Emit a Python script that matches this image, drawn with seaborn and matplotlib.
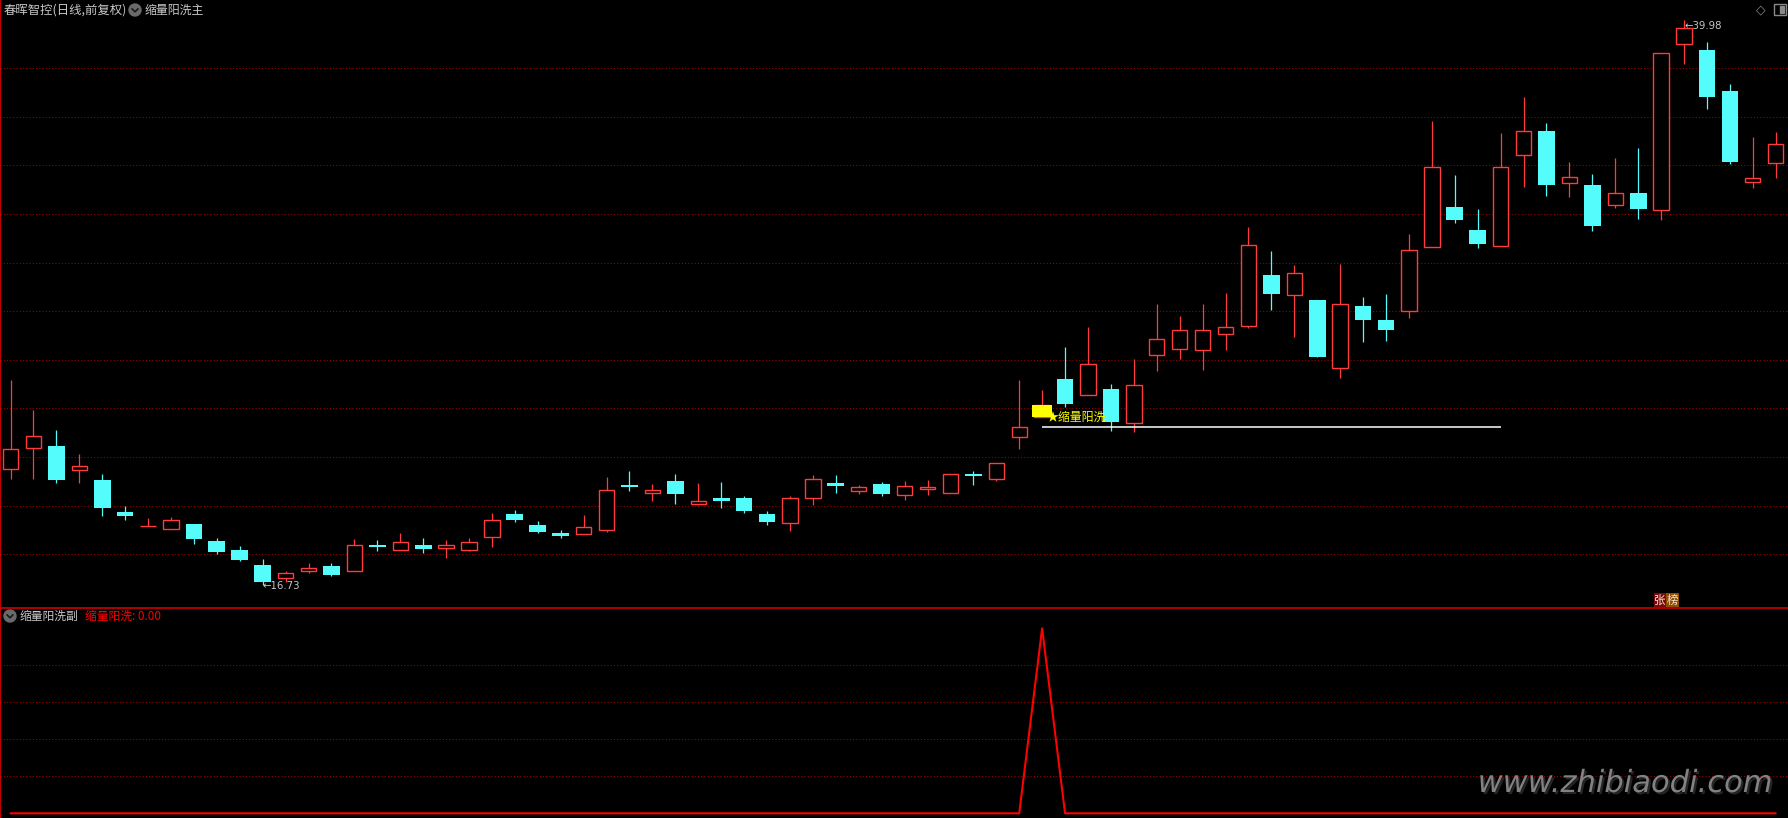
import numpy as np
import pandas as pd
import matplotlib
matplotlib.use("Agg")
import matplotlib.pyplot as plt
import matplotlib.patheffects as pe
import seaborn as sns
from matplotlib.patches import Circle, Rectangle


STOCK_TITLE = "春晖智控(日线,前复权)"
MAIN_NAME = "缩量阳洗主"
SUB_NAME = "缩量阳洗副"
SIGNAL_NAME = "缩量阳洗"
WATERMARK = "www.zhibiaodi.com"

opens = [21.50, 22.39, 22.46, 21.46, 21.06, 19.73, 19.15, 19.05, 19.25, 18.55,
         18.18, 17.56, 17.04, 17.33, 17.52, 17.33, 18.38, 18.19, 18.38, 18.27,
         18.19, 18.70, 19.66, 19.21, 18.88, 18.82, 18.99, 20.85, 20.51, 21.02,
         20.08, 20.32, 20.32, 19.66, 19.30, 20.30, 20.93, 20.59, 20.89, 20.45,
         20.67, 20.53, 21.30, 21.09, 22.84, 23.66, 25.21, 24.57, 24.80, 23.42,
         26.21, 26.46, 26.42, 27.08, 27.41, 29.49, 28.68, 28.46, 25.65, 28.22,
         27.64, 28.00, 30.66, 32.29, 31.35, 30.70, 34.44, 35.42, 33.29, 33.20,
         32.36, 32.87, 32.18, 38.99, 38.75, 37.07, 33.31, 34.09]
highs = [25.17, 23.94, 23.12, 22.13, 21.30, 19.99, 19.49, 19.53, 19.25, 18.67,
         18.34, 17.81, 17.33, 17.64, 17.64, 18.63, 18.59, 18.88, 18.67, 18.59,
         18.67, 19.70, 19.82, 19.36, 18.99, 19.62, 21.18, 21.43, 20.89, 21.30,
         20.93, 20.98, 20.40, 19.78, 20.40, 21.26, 21.26, 20.85, 20.98, 21.02,
         21.06, 21.30, 21.43, 21.74, 25.17, 24.76, 26.53, 27.35, 25.01, 26.04,
         28.30, 27.81, 28.30, 28.75, 31.47, 30.48, 29.91, 28.46, 29.95, 28.59,
         28.71, 31.18, 35.83, 33.61, 32.21, 35.34, 36.82, 35.75, 34.14, 33.65,
         34.31, 34.72, 38.62, 39.98, 39.08, 37.35, 35.17, 35.38]
lows = [21.11, 21.11, 20.95, 20.95, 19.59, 19.42, 19.15, 19.05, 18.44, 18.02,
        17.74, 16.73, 16.87, 17.24, 17.12, 17.33, 18.15, 18.19, 18.07, 17.86,
        18.15, 18.31, 19.34, 18.88, 18.68, 18.82, 18.91, 20.60, 20.21, 20.08,
        20.08, 19.92, 19.71, 19.22, 18.97, 20.04, 20.53, 20.49, 20.41, 20.25,
        20.45, 20.53, 20.86, 21.03, 22.35, 23.66, 24.05, 24.57, 23.09, 23.05,
        25.56, 26.05, 25.60, 26.42, 27.32, 28.07, 26.95, 26.13, 25.27, 26.75,
        26.79, 27.74, 30.66, 31.62, 30.60, 30.70, 33.13, 32.76, 32.72, 31.32,
        32.26, 31.81, 31.77, 38.19, 36.34, 34.05, 33.09, 33.50]
closes = [22.32, 22.86, 21.07, 21.62, 19.92, 19.59, 19.15, 19.40, 18.63, 18.11,
          17.78, 16.87, 17.22, 17.42, 17.16, 18.37, 18.31, 18.49, 18.23, 18.38,
          18.49, 19.40, 19.42, 18.93, 18.77, 19.11, 20.65, 20.78, 20.63, 20.49,
          20.18, 20.21, 19.79, 19.34, 20.32, 21.10, 20.82, 20.77, 20.49, 20.81,
          20.76, 21.30, 21.23, 21.74, 23.23, 24.14, 24.20, 25.82, 23.46, 24.95,
          26.85, 27.23, 27.22, 27.34, 30.73, 28.72, 29.58, 26.13, 28.29, 27.65,
          27.24, 30.51, 33.93, 31.76, 30.78, 33.93, 35.41, 33.21, 33.51, 31.52,
          32.86, 32.21, 38.62, 39.65, 36.83, 34.16, 33.47, 34.87]

# 副图信号: 1 = 出现缩量阳洗
signal = [0, 0, 0, 0, 0, 0, 0, 0, 0, 0, 0, 0, 0, 0, 0, 0, 0, 0, 0, 0,
          0, 0, 0, 0, 0, 0, 0, 0, 0, 0, 0, 0, 0, 0, 0, 0, 0, 0, 0, 0,
          0, 0, 0, 0, 0, 1, 0, 0, 0, 0, 0, 0, 0, 0, 0, 0, 0, 0, 0, 0,
          0, 0, 0, 0, 0, 0, 0, 0, 0, 0, 0, 0, 0, 0, 0, 0, 0, 0]

wash_line_price = 23.23
wash_line_end = 65
price_grid = [18, 20, 22, 24, 26, 28, 30, 32, 34, 36, 38]
signal_grid = [0.2, 0.4, 0.6, 0.8]

W, H = 1788, 818
SPLIT_PX = 608
STEP_PX = 22.925
FIRST_PX = 10.5

RED = "#ff3b3b"
CYAN = "#54fcfc"
GRID = "#a00000"
BORDER = "#c00000"
TEXT_GRAY = "#c8c8c8"
CJK = ["Noto Sans CJK SC", "DejaVu Sans"]


def px_xlim():
    return (-FIRST_PX / STEP_PX, (W - FIRST_PX) / STEP_PX)


def style_axes(ax):
    ax.set_facecolor("black")
    ax.set_xticks([])
    ax.set_yticks([])
    ax.set_xlabel("")
    ax.set_ylabel("")
    for s in ax.spines.values():
        s.set_visible(False)
    ax.spines["left"].set_visible(True)
    ax.spines["left"].set_color(BORDER)
    ax.spines["left"].set_linewidth(1.5)


def draw_candles(ax, df):
    up = df["close"] >= df["open"]
    lo = df[["open", "close"]].min(axis=1)
    hi = df[["open", "close"]].max(axis=1)
    x = df["x"]

    ax.vlines(x[up], df["low"][up], lo[up], color=RED, lw=0.9, zorder=2)
    ax.vlines(x[up], hi[up], df["high"][up], color=RED, lw=0.9, zorder=2)
    ax.vlines(x[~up], df["low"][~up], df["high"][~up], color=CYAN, lw=0.9, zorder=2)

    ax.bar(x[up], (hi - lo)[up], bottom=lo[up], width=0.67,
           facecolor="black", edgecolor=RED, linewidth=1.0, zorder=3)
    ax.bar(x[~up], (hi - lo)[~up], bottom=lo[~up], width=0.73,
           color=CYAN, linewidth=0, zorder=3)


def draw_main(ax, df):
    for g in price_grid:
        ax.axhline(g, color=GRID, lw=0.75, ls=(0, (1, 2.1)), zorder=1)

    draw_candles(ax, df)

    sig_idx = int(np.argmax(df["signal"].values))
    row = df.iloc[sig_idx]
    ax.bar(sig_idx, row["close"] - row["open"], bottom=row["open"], width=0.84,
           color="#ffff00", linewidth=0, zorder=4)
    ax.hlines(wash_line_price, sig_idx, wash_line_end, color="white", lw=1.1, zorder=4)
    ax.annotate("★" + SIGNAL_NAME, (sig_idx, row["open"]), xytext=(3, -0.5),
                textcoords="offset points", ha="left", va="center",
                color="#ffff00", fontsize=8.6, family=CJK, zorder=5)

    i_lo = int(np.argmin(df["low"].values))
    i_hi = int(np.argmax(df["high"].values))
    ax.annotate(f"←{df['low'][i_lo]:.2f}", (i_lo, df["low"][i_lo]), xytext=(0, -0.5),
                textcoords="offset points", ha="left", va="center",
                color=TEXT_GRAY, fontsize=7.3, family="DejaVu Sans")
    ax.annotate(f"←{df['high'][i_hi]:.2f}", (i_hi, df["high"][i_hi]), xytext=(0, -4),
                textcoords="offset points", ha="left", va="center",
                color=TEXT_GRAY, fontsize=7.3, family="DejaVu Sans")

    ax.set_xlim(*px_xlim())
    ax.set_ylim(15.79, 40.81)


def draw_sub(ax, df):
    for g in signal_grid:
        ax.axhline(g, color=GRID, lw=0.75, ls=(0, (1, 2.1)), zorder=1)
    sns.lineplot(x=df["x"], y=df["signal"], ax=ax, color="#ff0000", lw=1.5, zorder=3)
    ax.spines["top"].set_visible(True)
    ax.spines["top"].set_color(BORDER)
    ax.spines["top"].set_linewidth(1.3)
    ax.set_xlim(*px_xlim())
    ax.set_ylim(-0.0254, 1.1097)


def chevron_icon(ov, cx, cy):
    ov.add_patch(Circle((cx, cy), 6, color="#6a6a6a", zorder=5))
    ov.plot([cx - 3, cx, cx + 3], [cy - 1.2, cy + 1.8, cy - 1.2], color="#1a1a1a", lw=1.2, zorder=6)


def draw_overlay(fig):
    ov = fig.add_axes([0, 0, 1, 1], zorder=10)
    ov.set_xlim(0, W)
    ov.set_ylim(H, 0)
    ov.axis("off")
    ov.patch.set_alpha(0)

    ov.text(4, 10, STOCK_TITLE, color=TEXT_GRAY, fontsize=8.9, family=CJK, va="center", ha="left")
    chevron_icon(ov, 135, 10)
    ov.text(145, 10, MAIN_NAME, color=TEXT_GRAY, fontsize=8.6, family=CJK, va="center", ha="left")

    chevron_icon(ov, 10, 616)
    ov.text(20, 616, SUB_NAME, color=TEXT_GRAY, fontsize=8.5, family=CJK, va="center", ha="left")
    ov.text(85, 616, f"{SIGNAL_NAME}: {signal[-1]:.2f}", color="#ff0000", fontsize=8.5,
            family=CJK, va="center", ha="left")

    ov.text(1761, 9.5, "◇", color="#8a8a8a", fontsize=9, family="DejaVu Sans", va="center", ha="center")
    ov.add_patch(Rectangle((1774, 4), 12, 11, fill=False, edgecolor="#8a8a8a", lw=1.0))
    ov.add_patch(Rectangle((1780, 6), 4, 7, color="#8a8a8a"))

    ov.text(1660, 600, "张", color="#f0e0d0", fontsize=8.3, family=CJK, va="center", ha="center",
            bbox=dict(boxstyle="square,pad=0.05", fc="#7d0a0a", ec="none"))
    ov.text(1672.5, 600, "榜", color="#f0e0d0", fontsize=8.3, family=CJK, va="center", ha="center",
            bbox=dict(boxstyle="square,pad=0.05", fc="#8f4d00", ec="none"))

    ov.text(1625, 792, WATERMARK, color="#828282", fontsize=22, style="italic",
            family="DejaVu Sans", ha="center", va="baseline",
            path_effects=[pe.withSimplePatchShadow(offset=(1.5, -1.5), shadow_rgbFace="#2a2a2a", alpha=0.9)])


def main():
    sns.set_theme(style="dark", rc={"axes.facecolor": "black", "figure.facecolor": "black"})
    plt.rcParams["font.family"] = CJK

    df = pd.DataFrame({"open": opens, "high": highs, "low": lows, "close": closes, "signal": signal})
    df["x"] = np.arange(len(df))

    fig = plt.figure(figsize=(W / 100, H / 100), dpi=100)
    split = (H - SPLIT_PX) / H
    ax_top = fig.add_axes([0, split, 1, 1 - split])
    ax_bot = fig.add_axes([0, 0, 1, split])
    style_axes(ax_top)
    style_axes(ax_bot)

    draw_main(ax_top, df)
    draw_sub(ax_bot, df)
    draw_overlay(fig)

    fig.savefig("out.png", dpi=100, facecolor="black")
    plt.close(fig)


if __name__ == "__main__":
    main()
